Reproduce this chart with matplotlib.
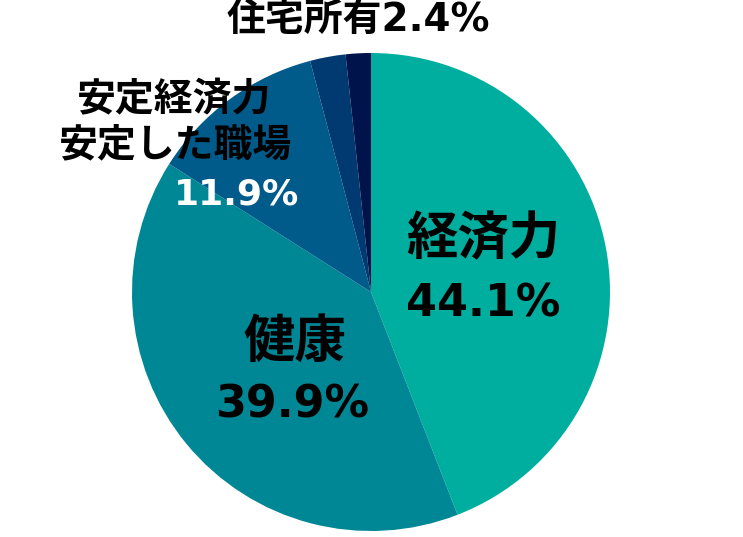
import matplotlib
matplotlib.use("Agg")
import matplotlib.pyplot as plt

# slice values (%), clockwise from 12 o'clock
names = ["経済力", "健康", "安定経済力\n安定した職場", "住宅所有", "その他"]
shares = [44.1, 39.9, 11.9, 2.4, 1.7]
colors = ["#00AEA0", "#008796", "#005B8A", "#003A70", "#00134A"]

# digits from DejaVu (wide, like the original), kanji fall back to Noto CJK
plt.rcParams['font.family'] = ['DejaVu Sans', 'Noto Sans CJK JP']

fig = plt.figure(figsize=(7.43, 5.37), dpi=100)
W, H = 743, 537
cx, cy, r = 371, 292, 239
ax = fig.add_axes([(cx - r) / W, (H - cy - r) / H, 2 * r / W, 2 * r / H])
ax.pie(shares, colors=colors, startangle=90, counterclock=False,
       radius=1.0, wedgeprops=dict(linewidth=0))
ax.set_xlim(-1, 1)
ax.set_ylim(-1, 1)
ax.set_aspect("equal")
ax.axis("off")

name_big = dict(fontsize=37, fontweight="bold", ha="center", va="center")
pct_big = dict(fontsize=32, fontweight="bold", ha="center", va="center")
mid = dict(fontsize=28, fontweight="bold", ha="center", va="center")

# 経済力
ax.text(0.469, 0.218, names[0], **name_big)
ax.text(0.469, -0.05, f"{shares[0]}%", **pct_big)
# 健康
ax.text(-0.318, -0.213, names[1], **name_big)
ax.text(-0.33, -0.473, f"{shares[1]}%", **pct_big)
# 安定経済力 / 安定した職場
line1, line2 = names[2].split("\n")
ax.text(-0.824, 0.803, line1, **mid)
ax.text(-0.82, 0.611, line2, **mid)
ax.text(-0.561, 0.41, f"{shares[2]}%", color="white",
        fontsize=26, fontweight="bold", ha="center", va="center")
# 住宅所有
ax.text(-0.054, 1.138, f"{names[3]}{shares[3]}%", **mid)

fig.savefig("out.png", dpi=100)
